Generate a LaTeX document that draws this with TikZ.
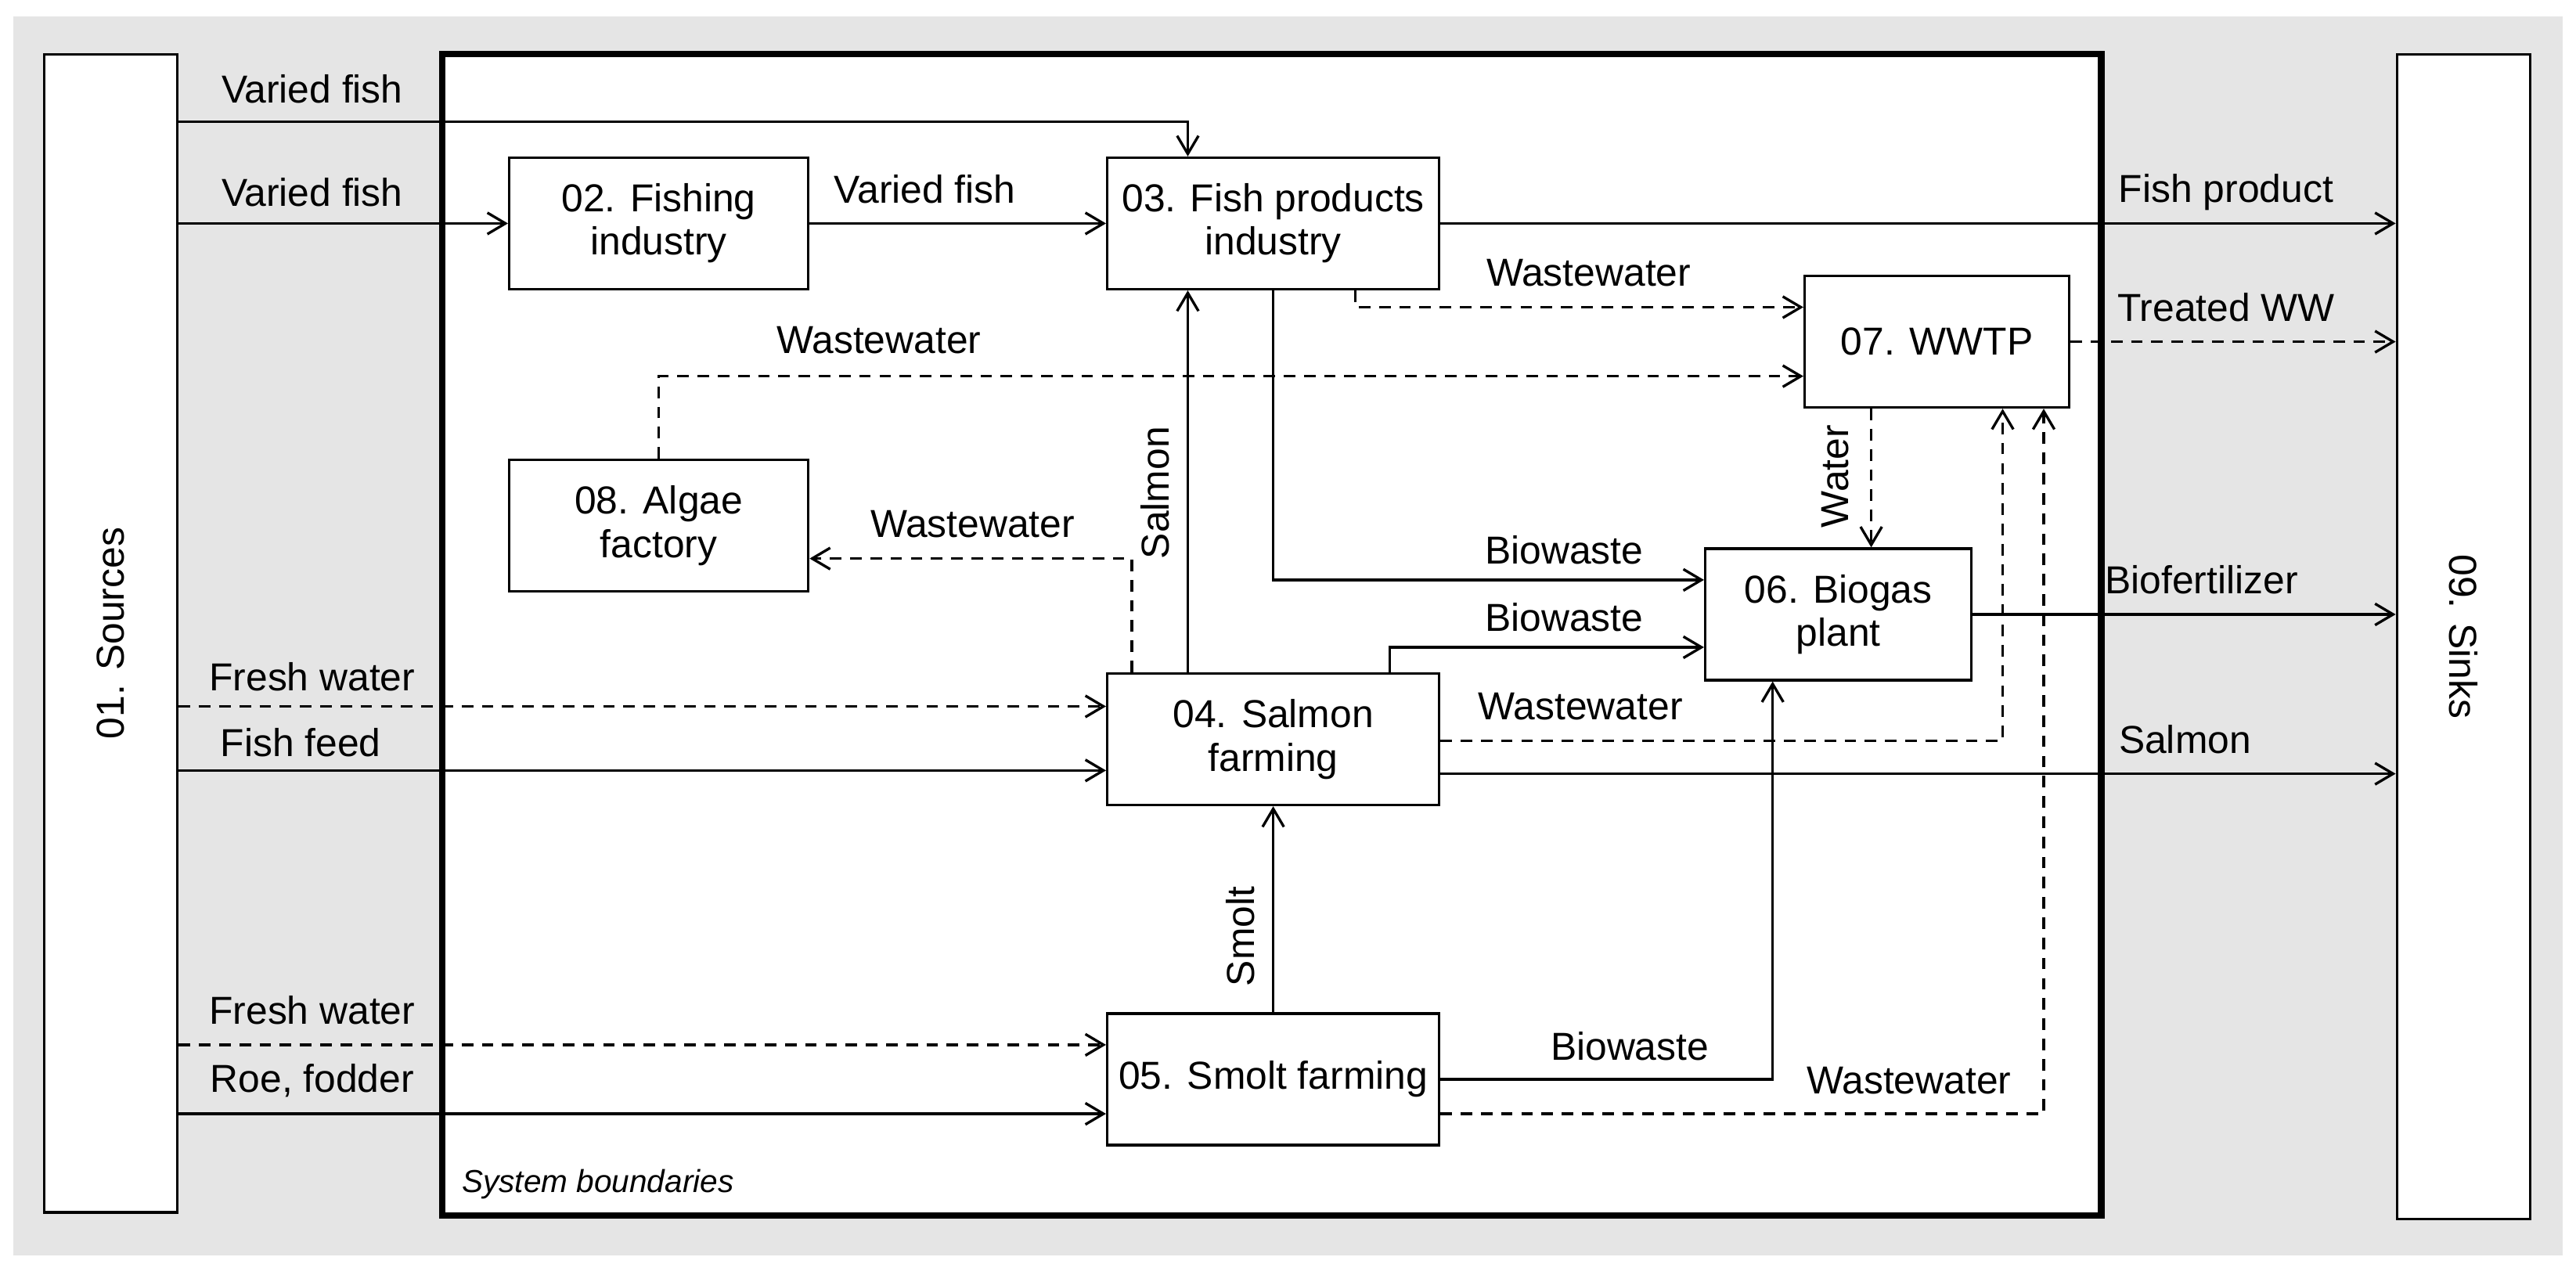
\documentclass[tikz,border=0pt]{standalone}
\usepackage{fontspec}
\setmainfont{Liberation Sans}
\usetikzlibrary{arrows.meta}
\begin{document}
\begin{tikzpicture}[x=0.2mm,y=-0.2mm,
  font=\fontsize{13.5}{15}\selectfont,
  box/.style={draw,line width=0.9pt,fill=white,minimum width=36.4mm,minimum height=16mm,align=center,inner sep=0pt},
  side/.style={draw,line width=0.9pt,fill=white,minimum width=16.2mm,inner sep=0pt},
  arr/.style={line width=0.9pt,-{Straight Barb[length=2.2mm,width=2.6mm]}},
  dsh/.style={arr,dash pattern=on 4pt off 3pt},
  lab/.style={inner sep=1pt}]
\useasboundingbox (0,0) rectangle (1568,776);
\fill[black!10] (8,10) rectangle (1560,764);
% system boundary
\draw[line width=2.2pt,fill=white] (269,33) rectangle (1279,740);
\node[anchor=west,font=\fontsize{11}{12}\selectfont\itshape] (sb) at (275,721) {System boundaries};
% sources and sinks
\node[side,minimum height=141mm] (src) at (67.5,385.5) {};
\node[rotate=90] (srct) at (67.5,385.5) {01. Sources};
\node[side,minimum height=141.8mm] (snk) at (1499.5,387.5) {};
\node[rotate=-90] (snkt) at (1499.5,387.5) {09. Sinks};
% processes
\node[box] (n02) at (401,136) {02. Fishing\\industry};
\node[box,minimum width=40.4mm] (n03) at (775,136) {03. Fish products\\industry};
\node[box,minimum width=32.2mm] (n07) at (1179,208) {07. WWTP};
\node[box] (n08) at (401,320) {08. Algae\\factory};
\node[box,minimum width=32.4mm] (n06) at (1119,374) {06. Biogas\\plant};
\node[box,minimum width=40.4mm] (n04) at (775,450) {04. Salmon\\farming};
\node[box,minimum width=40.4mm] (n05) at (775,657) {05. Smolt farming};
% flows from sources
\draw[arr] (src.east |- 0,74) -| (n03.north -| 723,0);
\node[lab] (l1) at (190,54) {Varied fish};
\draw[arr] (src.east |- n02) -- (n02);
\node[lab] (l2) at (190,117) {Varied fish};
\draw[arr] (n02) -- (n03);
\node[lab] (l3) at (563,115) {Varied fish};
\draw[arr] (n03) -- (snk.west |- n03);
\node[lab] (l4) at (1355,117) {Fish product};
\draw[dsh] (n03.south -| 825,0) |- (n07.west |- 0,187);
\node[lab] (l5) at (967,166) {Wastewater};
\draw[dsh] (n07) -- (snk.west |- n07);
\node[lab] (l6) at (1355,187) {Treated WW};
\draw[dsh] (n08.north) |- (n07.west |- 0,229);
\node[lab] (l7) at (535,207) {Wastewater};
\draw[arr] (n03.south) |- (n06.west |- 0,353);
\node[lab] (l8) at (952,335) {Biowaste};
\draw[arr] (n04.north -| 723,0) -- (n03.south -| 723,0);
\node[lab,rotate=90] (l9) at (703,300) {Salmon};
\draw[dsh] (n04.north -| 689,0) |- (n08.east |- 0,340);
\node[lab] (l10) at (592,319) {Wastewater};
\draw[dsh] (n07.south -| 1139,0) -- (n06.north -| 1139,0);
\node[lab,rotate=90] (l11) at (1117,290) {Water};
\draw[arr] (n04.north -| 846,0) |- (n06.west |- 0,394);
\node[lab] (l12) at (952,376) {Biowaste};
\draw[arr] (n06) -- (snk.west |- n06);
\node[lab] (l13) at (1340,353) {Biofertilizer};
\draw[dsh] (src.east |- 0,430) -- (n04.west |- 0,430);
\node[lab] (l14) at (190,412) {Fresh water};
\draw[arr] (src.east |- 0,469) -- (n04.west |- 0,469);
\node[lab] (l15) at (183,452) {Fish feed};
\draw[dsh] (n04.east |- 0,451) -| (n07.south -| 1219,0);
\node[lab] (l16) at (962,430) {Wastewater};
\draw[arr] (n04.east |- 0,471) -- (snk.west |- 0,471);
\node[lab] (l17) at (1330,450) {Salmon};
\draw[arr] (n05) -- (n04);
\node[lab,rotate=90] (l18) at (755,570) {Smolt};
\draw[dsh] (src.east |- 0,636) -- (n05.west |- 0,636);
\node[lab] (l19) at (190,615) {Fresh water};
\draw[arr] (src.east |- 0,678) -- (n05.west |- 0,678);
\node[lab] (l20) at (190,658) {Roe, fodder};
\draw[arr] (n05) -| (n06.south -| 1079,0);
\node[lab] (l21) at (992,637) {Biowaste};
\draw[dsh] (n05.east |- 0,678) -| (n07.south -| 1244,0);
\node[lab] (l22) at (1162,658) {Wastewater};
\end{tikzpicture}
\end{document}
